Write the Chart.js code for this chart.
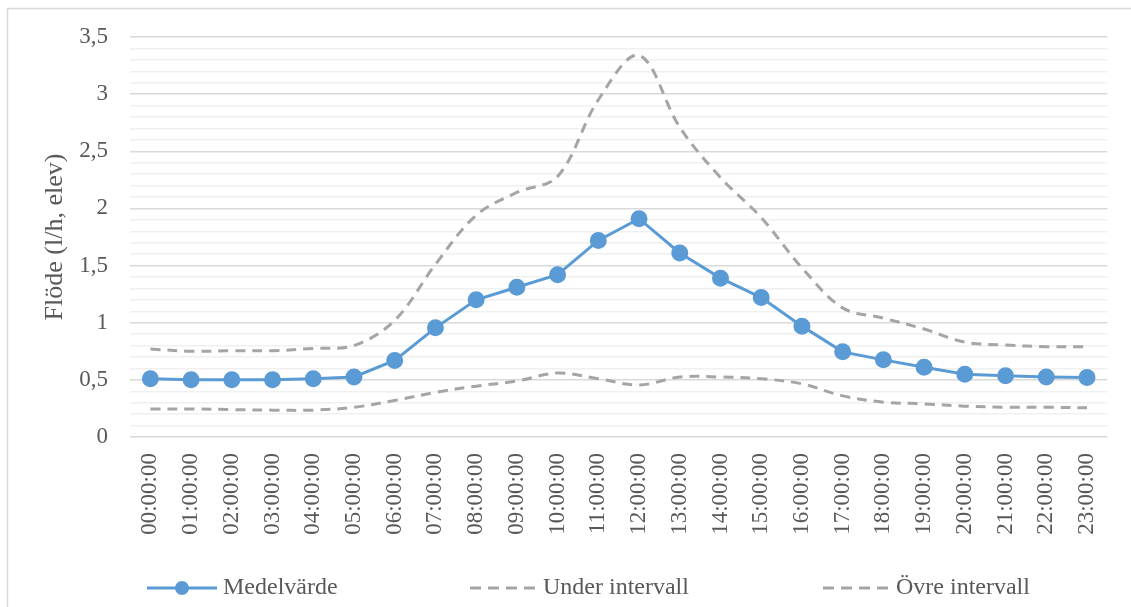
<!DOCTYPE html>
<html>
<head>
<meta charset="utf-8">
<script src="https://cdn.jsdelivr.net/npm/chart.js@4"></script>
<style>
  html, body { margin: 0; padding: 0; background: #fff; }
  #wrap { position: relative; width: 1131px; height: 607px; }
</style>
</head>
<body>
<div id="wrap"><canvas id="c" width="1131" height="607"></canvas></div>
<script>
// Hourly timestamps
const hours = ["00:00:00","01:00:00","02:00:00","03:00:00","04:00:00","05:00:00",
  "06:00:00","07:00:00","08:00:00","09:00:00","10:00:00","11:00:00",
  "12:00:00","13:00:00","14:00:00","15:00:00","16:00:00","17:00:00",
  "18:00:00","19:00:00","20:00:00","21:00:00","22:00:00","23:00:00"];

// Mean flow per pupil (l/h, elev)
const medelvarde = [0.51,0.50,0.50,0.50,0.51,0.525,0.67,0.955,1.20,1.31,1.42,1.72,
  1.91,1.61,1.39,1.22,0.97,0.745,0.675,0.61,0.55,0.535,0.525,0.52];

// Lower bound of the interval
const underIntervall = [0.245,0.245,0.24,0.235,0.235,0.26,0.32,0.39,0.445,0.49,0.56,0.51,
  0.455,0.525,0.525,0.51,0.465,0.36,0.305,0.29,0.27,0.26,0.26,0.255];

// Upper bound of the interval
const ovreIntervall = [0.77,0.75,0.755,0.755,0.775,0.80,1.02,1.51,1.94,2.14,2.28,2.95,
  3.34,2.71,2.27,1.92,1.48,1.13,1.04,0.945,0.83,0.805,0.79,0.79];

// Y axis labels use a decimal comma
const yTickLabels = {0:"0",0.5:"0,5",1:"1",1.5:"1,5",2:"2",2.5:"2,5",3:"3",3.5:"3,5"};

const SERIF = "'Liberation Serif', 'Times New Roman', serif";
const TEXT = "#595959";
const BLUE = "#5b9bd5";
const GREY = "#a5a5a5";

// Light frame around the whole chart
const framePlugin = {
  id: "frame",
  beforeDraw(chart) {
    const ctx = chart.ctx;
    ctx.save();
    ctx.fillStyle = "#fff";
    ctx.fillRect(0, 0, chart.width, chart.height);
    ctx.strokeStyle = "#d9d9d9";
    ctx.lineWidth = 1.5;
    ctx.strokeRect(7.5, 8.5, 1130, 620);
    ctx.restore();
  }
};

// Legend row under the axis
const legendPlugin = {
  id: "legendRow",
  afterDraw(chart) {
    const ctx = chart.ctx;
    const y = 588;
    const items = [
      { ds: 0, x0: 147, x1: 217 },
      { ds: 1, x0: 470, x1: 537 },
      { ds: 2, x0: 823, x1: 890 }
    ];
    ctx.save();
    items.forEach(it => {
      const ds = chart.data.datasets[it.ds];
      ctx.beginPath();
      ctx.strokeStyle = ds.borderColor;
      ctx.lineWidth = ds.borderWidth;
      ctx.setLineDash(ds.borderDash ? [11, 7] : []);
      ctx.moveTo(it.x0, y);
      ctx.lineTo(it.x1, y);
      ctx.stroke();
      ctx.setLineDash([]);
      if (ds.pointRadius > 0) {
        ctx.beginPath();
        ctx.fillStyle = ds.pointBackgroundColor;
        ctx.arc((it.x0 + it.x1) / 2, y, ds.pointRadius, 0, Math.PI * 2);
        ctx.fill();
      }
      ctx.fillStyle = TEXT;
      ctx.font = "24px " + SERIF;
      ctx.textBaseline = "middle";
      ctx.textAlign = "left";
      ctx.fillText(ds.label, it.x1 + 6, y);
    });
    ctx.restore();
  }
};

new Chart(document.getElementById("c"), {
  type: "line",
  data: {
    labels: hours,
    datasets: [
      {
        label: "Medelvärde",
        data: medelvarde,
        borderColor: BLUE,
        backgroundColor: BLUE,
        pointBackgroundColor: BLUE,
        pointBorderColor: BLUE,
        borderWidth: 3,
        pointRadius: 7,
        pointHoverRadius: 7,
        tension: 0,
        order: 0
      },
      {
        label: "Under intervall",
        data: underIntervall,
        borderColor: GREY,
        backgroundColor: GREY,
        borderWidth: 3,
        borderDash: [10, 7],
        pointRadius: 0,
        tension: 0.35,
        order: 1
      },
      {
        label: "Övre intervall",
        data: ovreIntervall,
        borderColor: GREY,
        backgroundColor: GREY,
        borderWidth: 3,
        borderDash: [10, 7],
        pointRadius: 0,
        tension: 0.35,
        order: 2
      }
    ]
  },
  options: {
    responsive: false,
    animation: false,
    events: [],
    layout: { autoPadding: false, padding: { left: 8, top: 37, right: 19, bottom: 0 } },
    plugins: {
      legend: { display: false },
      tooltip: { enabled: false }
    },
    scales: {
      x: {
        offset: true,
        grid: { display: false, drawTicks: false },
        border: { display: false },
        ticks: {
          minRotation: 90,
          maxRotation: 90,
          autoSkip: false,
          padding: 16,
          color: TEXT,
          font: { family: SERIF, size: 23 }
        },
        afterFit(scale) { scale.height = 170; }
      },
      y: {
        min: 0,
        max: 3.5,
        grid: {
          drawTicks: false,
          lineWidth: 1.5,
          color(ctx) {
            const v = Math.round(ctx.tick.value * 10);
            return v % 5 === 0 ? "#d9d9d9" : "#f0f0f0";
          }
        },
        border: { display: false },
        ticks: {
          stepSize: 0.1,
          autoSkip: false,
          padding: 22,
          color: TEXT,
          font: { family: SERIF, size: 23 },
          callback(value) {
            const k = Math.round(value * 10) / 10;
            return yTickLabels.hasOwnProperty(k) ? yTickLabels[k] : "";
          }
        },
        title: {
          display: true,
          text: "Flöde (l/h, elev)",
          color: TEXT,
          font: { family: SERIF, size: 26 },
          padding: { top: 32, bottom: 0 }
        },
        afterFit(scale) { scale.width = 122; }
      }
    }
  },
  plugins: [framePlugin, legendPlugin]
});
</script>
</body>
</html>
